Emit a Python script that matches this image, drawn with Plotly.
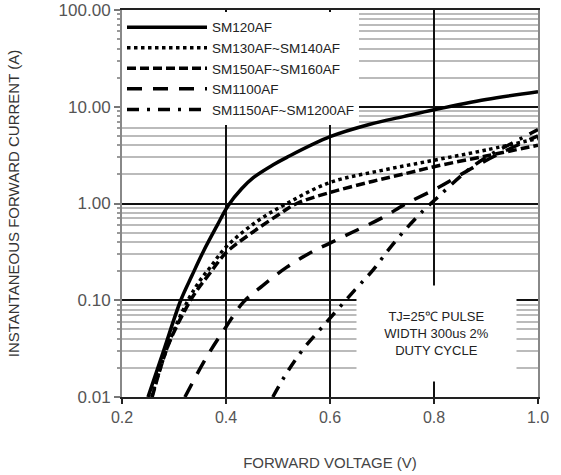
import plotly.graph_objects as go

# ---- data ----
v_sm120 = [0.25, 0.28, 0.313, 0.335, 0.356, 0.382, 0.404, 0.43, 0.4525, 0.49, 0.517, 0.60, 0.677, 0.741, 0.80, 0.90, 1.00]
i_sm120 = [0.01, 0.030, 0.10, 0.182, 0.316, 0.58, 0.95, 1.42, 1.85, 2.5, 3.0, 4.9, 6.6, 7.9, 9.3, 11.9, 14.3]

v_sm130 = [0.257, 0.29, 0.327, 0.35, 0.37, 0.40, 0.459, 0.517, 0.60, 0.70, 0.80, 0.90, 1.00]
i_sm130 = [0.01, 0.036, 0.10, 0.16, 0.22, 0.355, 0.65, 1.0, 1.65, 2.2, 2.8, 3.57, 4.7]

v_sm150 = [0.258, 0.29, 0.33, 0.347, 0.369, 0.40, 0.443, 0.50, 0.536, 0.60, 0.683, 0.747, 0.80, 0.90, 1.00]
i_sm150 = [0.01, 0.0355, 0.096, 0.133, 0.19, 0.31, 0.47, 0.76, 1.0, 1.3, 1.7, 2.05, 2.4, 3.1, 4.0]

v_sm1100 = [0.321, 0.363, 0.40, 0.433, 0.47, 0.517, 0.567, 0.60, 0.645, 0.70, 0.747, 0.81, 0.875, 0.92, 1.00]
i_sm1100 = [0.01, 0.026, 0.053, 0.095, 0.141, 0.22, 0.32, 0.39, 0.51, 0.71, 1.0, 1.48, 2.35, 3.16, 5.0]

v_sm1150 = [0.49, 0.517, 0.55, 0.584, 0.648, 0.683, 0.712, 0.744, 0.779, 0.81, 0.86, 0.90, 0.95, 1.00]
i_sm1150 = [0.01, 0.0178, 0.032, 0.052, 0.128, 0.206, 0.33, 0.53, 0.84, 1.2, 2.1, 3.0, 4.2, 5.8]

names = ["SM120AF", "SM130AF~SM140AF", "SM150AF~SM160AF", "SM1100AF", "SM1150AF~SM1200AF"]
dashes = ["solid", "dot", "9px,4px", "15px,11px", "12px,8px,3px,8px"]

x_ticks = [0.2, 0.4, 0.6, 0.8, 1.0]
x_ticktext = ["0.2", "0.4", "0.6", "0.8", "1.0"]
y_ticks = [0.01, 0.1, 1, 10, 100]
y_ticktext = ["0.01", "0.10", "1.00", "10.00", "100.00"]
y_minor = [m * d for d in [0.01, 0.1, 1, 10] for m in range(2, 10)]

series = [(v_sm120, i_sm120), (v_sm130, i_sm130), (v_sm150, i_sm150),
          (v_sm1100, i_sm1100), (v_sm1150, i_sm1150)]

FONT = "Liberation Sans, Arial, sans-serif"

fig = go.Figure()
for (vx, iy), nm, ds in zip(series, names, dashes):
    fig.add_trace(go.Scatter(
        x=vx, y=iy, name=nm, mode="lines",
        line=dict(color="black", width=3.5, dash=ds, shape="spline", smoothing=1.0),
    ))

fig.update_layout(
    width=561, height=475,
    margin=dict(l=122, r=23, t=10, b=78),
    paper_bgcolor="white", plot_bgcolor="white",
    font=dict(family=FONT, color="#333"),
    showlegend=True,
    legend=dict(x=0, y=0.995, xanchor="left", yanchor="top",
                bgcolor="white", borderwidth=0,
                font=dict(size=13.5, color="#222", family=FONT),
                tracegroupgap=0, itemwidth=80),
    annotations=[dict(text="TJ=25\u2103 PULSE<br>WIDTH 300us 2%<br>DUTY CYCLE",
                      xref="paper", yref="paper", x=0.756, y=0.164,
                      xanchor="center", yanchor="middle", showarrow=False,
                      width=157, height=93, bgcolor="white",
                      font=dict(size=13, color="#222", family=FONT))],
)

fig.update_xaxes(
    range=[0.2, 1.0], tickvals=x_ticks, ticktext=x_ticktext,
    showgrid=True, gridcolor="#111", gridwidth=1.5,
    showline=True, linecolor="#222", linewidth=2, mirror=True,
    ticks="outside", ticklen=5, tickcolor="#222", tickwidth=1.5,
    tickfont=dict(size=16, color="#555"), automargin=False,
    title=dict(text="FORWARD VOLTAGE (V)", font=dict(size=15, color="#444"), standoff=32),
    zeroline=False,
)
fig.update_yaxes(
    type="log", range=[-2, 2], tickvals=y_ticks, ticktext=y_ticktext,
    showgrid=True, gridcolor="#111", gridwidth=1.5,
    showline=True, linecolor="#888", linewidth=2, mirror=True,
    ticks="outside", ticklen=6, tickcolor="#777", tickwidth=1.5,
    tickfont=dict(size=17, color="#555"), automargin=False,
    minor=dict(tickvals=y_minor, showgrid=True, gridcolor="#bbb", gridwidth=1.5,
               ticks="outside", ticklen=3, tickcolor="#999"),
    title=dict(text="INSTANTANEOUS FORWARD CURRENT (A)", font=dict(size=15, color="#333"), standoff=35),
    zeroline=False,
)

fig.write_html("out.html", config={"displayModeBar": False},
               post_script="document.body.style.margin='0px';")
